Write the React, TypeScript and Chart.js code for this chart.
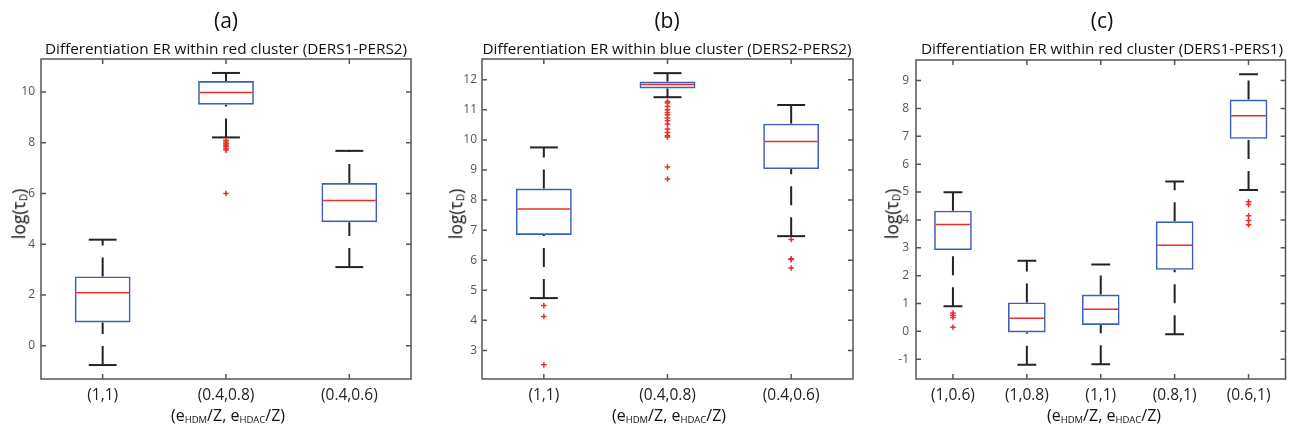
import React, { useEffect, useRef } from 'react';
import { Chart, registerables } from 'chart.js';

Chart.register(...registerables);

const FONT = "'Open Sans', 'Noto Sans', sans-serif";
const BLUE = '#3d5fb8';
const RED = '#e8302a';
const WHISKER = '#232323';
const AXIS = '#555555';

// ---- Panel (a) ----
const catsA = ['(1,1)', '(0.4,0.8)', '(0.4,0.6)'];
const lowA = [-0.76, 8.21, 3.1];
const q1A = [0.92, 9.5, 4.87];
const medA = [2.09, 9.98, 5.72];
const q3A = [2.73, 10.43, 6.41];
const highA = [4.18, 10.75, 7.68];
const outA: number[][] = [[], [8.1, 8.03, 7.96, 7.9, 7.84, 7.77, 7.71, 6.0], []];

// ---- Panel (b) ----
const catsB = ['(1,1)', '(0.4,0.8)', '(0.4,0.6)'];
const lowB = [4.74, 11.42, 6.8];
const q1B = [6.84, 11.71, 9.03];
const medB = [7.7, 11.84, 9.95];
const q3B = [8.38, 11.94, 10.54];
const highB = [9.75, 12.22, 11.16];
const outB: number[][] = [
  [4.49, 4.13, 2.52],
  [11.28, 11.23, 11.11, 11.0, 10.91, 10.84, 10.73, 10.64, 10.53, 10.36, 10.25, 10.14, 10.1, 9.1, 8.7],
  [6.69, 6.05, 6.02, 5.74],
];

// ---- Panel (c) ----
const catsC = ['(1,0.6)', '(1,0.8)', '(1,1)', '(0.8,1)', '(0.6,1)'];
const lowC = [0.9, -1.2, -1.18, -0.1, 5.07];
const q1C = [2.92, -0.04, 0.23, 2.21, 6.91];
const medC = [3.84, 0.47, 0.79, 3.09, 7.74];
const q3C = [4.33, 1.04, 1.32, 3.95, 8.32];
const highC = [4.99, 2.53, 2.4, 5.38, 9.23];
const outC: number[][] = [[0.66, 0.58, 0.5, 0.15], [], [], [], [4.65, 4.55, 4.15, 3.98, 3.83]];

type Spec = {
  letter: string;
  title: string;
  cats: string[];
  low: number[];
  q1: number[];
  med: number[];
  q3: number[];
  high: number[];
  out: number[][];
  yMin: number;
  yMax: number;
  step: number;
  boxPct: number;
  left: number;
  width: number;
  areaLeft: number;
  areaRight: number;
  areaTop: number;
  areaBottom: number;
  cx: number;
  yTitleX: number;
  yTickPad: number;
};

const panels: Spec[] = [
  {
    letter: '(a)', title: 'Differentiation ER within red cluster (DERS1-PERS2)',
    cats: catsA, low: lowA, q1: q1A, med: medA, q3: q3A, high: highA, out: outA,
    yMin: -1.31, yMax: 11.3, step: 2, boxPct: 0.452,
    left: 0, width: 430, areaLeft: 41, areaRight: 411, areaTop: 59, areaBottom: 379,
    cx: 226, yTitleX: 19, yTickPad: 6,
  },
  {
    letter: '(b)', title: 'Differentiation ER within blue cluster (DERS2-PERS2)',
    cats: catsB, low: lowB, q1: q1B, med: medB, q3: q3B, high: highB, out: outB,
    yMin: 2.05, yMax: 12.69, step: 1, boxPct: 0.452,
    left: 430, width: 430, areaLeft: 52, areaRight: 423, areaTop: 59, areaBottom: 379,
    cx: 237, yTitleX: 26, yTickPad: 5,
  },
  {
    letter: '(c)', title: 'Differentiation ER within red cluster (DERS1-PERS1)',
    cats: catsC, low: lowC, q1: q1C, med: medC, q3: q3C, high: highC, out: outC,
    yMin: -1.71, yMax: 9.74, step: 1, boxPct: 0.51,
    left: 860, width: 431, areaLeft: 56, areaRight: 426, areaTop: 60, areaBottom: 379,
    cx: 242, yTitleX: 32, yTickPad: 7,
  },
];

function makeBoxPlugin(p: Spec) {
  return {
    id: 'boxExtras',
    beforeDatasetsDraw(chart: any) {
      const { ctx, chartArea } = chart;
      const x = chart.scales.x;
      const y = chart.scales.y;
      const meta = chart.getDatasetMeta(0);
      ctx.save();
      ctx.beginPath();
      ctx.rect(chartArea.left, chartArea.top, chartArea.right - chartArea.left, chartArea.bottom - chartArea.top);
      ctx.clip();
      ctx.strokeStyle = WHISKER;
      ctx.lineWidth = 2;
      p.cats.forEach((_, i) => {
        const bar = meta.data[i];
        const cx = x.getPixelForValue(i);
        const capHalf = bar.width / 4;
        ctx.setLineDash([19, 12]);
        ctx.beginPath();
        ctx.moveTo(cx, y.getPixelForValue(p.low[i]));
        ctx.lineTo(cx, y.getPixelForValue(p.q1[i]));
        ctx.stroke();
        ctx.beginPath();
        ctx.moveTo(cx, y.getPixelForValue(p.q3[i]));
        ctx.lineTo(cx, y.getPixelForValue(p.high[i]));
        ctx.stroke();
        ctx.setLineDash([]);
        [p.low[i], p.high[i]].forEach((v) => {
          const py = y.getPixelForValue(v);
          ctx.beginPath();
          ctx.moveTo(cx - capHalf, py);
          ctx.lineTo(cx + capHalf, py);
          ctx.stroke();
        });
      });
      ctx.restore();
    },
    afterDatasetsDraw(chart: any) {
      const { ctx } = chart;
      const x = chart.scales.x;
      const y = chart.scales.y;
      const meta = chart.getDatasetMeta(0);
      ctx.save();
      ctx.strokeStyle = RED;
      ctx.lineWidth = 1.5;
      p.cats.forEach((_, i) => {
        const bar = meta.data[i];
        const cx = x.getPixelForValue(i);
        const half = bar.width / 2 - 1.5;
        const my = y.getPixelForValue(p.med[i]);
        ctx.beginPath();
        ctx.moveTo(cx - half, my);
        ctx.lineTo(cx + half, my);
        ctx.stroke();
      });
      ctx.restore();
    },
  };
}

const axesPlugin = {
  id: 'matlabAxes',
  afterDraw(chart: any) {
    const { ctx, chartArea } = chart;
    const { left, right, top, bottom } = chartArea;
    const x = chart.scales.x;
    const y = chart.scales.y;
    const L = 5;
    ctx.save();
    ctx.strokeStyle = AXIS;
    ctx.lineWidth = 1.5;
    ctx.strokeRect(left, top, right - left, bottom - top);
    ctx.beginPath();
    y.ticks.forEach((t: any) => {
      const py = y.getPixelForValue(t.value);
      ctx.moveTo(left, py);
      ctx.lineTo(left + L, py);
      ctx.moveTo(right, py);
      ctx.lineTo(right - L, py);
    });
    x.ticks.forEach((_: any, i: number) => {
      const px = x.getPixelForTick(i);
      ctx.moveTo(px, bottom);
      ctx.lineTo(px, bottom - L);
      ctx.moveTo(px, top);
      ctx.lineTo(px, top + L);
    });
    ctx.stroke();
    ctx.restore();
  },
};

function Panel({ p }: { p: Spec }) {
  const ref = useRef<HTMLCanvasElement>(null);
  useEffect(() => {
    const outliers: { x: string; y: number }[] = [];
    p.out.forEach((arr, i) => arr.forEach((v) => outliers.push({ x: p.cats[i], y: v })));
    const chart = new Chart(ref.current as HTMLCanvasElement, {
      type: 'bar',
      data: {
        labels: p.cats,
        datasets: [
          {
            type: 'bar',
            data: p.q1.map((v, i) => [v, p.q3[i]]) as any,
            backgroundColor: 'rgba(0,0,0,0)',
            borderColor: BLUE,
            borderWidth: 1.6,
            borderSkipped: false,
            barPercentage: p.boxPct,
            categoryPercentage: 1,
            order: 2,
          } as any,
          {
            type: 'scatter',
            data: outliers as any,
            pointStyle: 'cross',
            pointRadius: 2.8,
            borderColor: RED,
            backgroundColor: RED,
            borderWidth: 1.5,
            showLine: false,
            order: 1,
          } as any,
        ],
      },
      options: {
        responsive: false,
        maintainAspectRatio: false,
        animation: false,
        events: [],
        layout: {
          padding: { left: 0, right: p.width - p.areaRight, top: p.areaTop, bottom: 0 },
        },
        plugins: {
          legend: { display: false },
          tooltip: { enabled: false },
          title: { display: false },
        },
        scales: {
          x: {
            type: 'category',
            offset: true,
            grid: { display: false, drawTicks: false },
            border: { display: false },
            ticks: { font: { family: FONT, size: 15.5 }, color: '#222', padding: 7, maxRotation: 0, autoSkip: false },
            afterFit: (s: any) => {
              s.height = 432 - p.areaBottom;
            },
          },
          y: {
            type: 'linear',
            min: p.yMin,
            max: p.yMax,
            grid: { display: false, drawTicks: false },
            border: { display: false },
            ticks: {
              stepSize: p.step,
              includeBounds: false,
              font: { family: FONT, size: 12 },
              color: '#555',
              padding: p.yTickPad,
            },
            afterFit: (s: any) => {
              s.width = p.areaLeft;
            },
          },
        },
      } as any,
      plugins: [makeBoxPlugin(p), axesPlugin],
    });
    return () => chart.destroy();
  }, [p]);

  const subStyle: React.CSSProperties = { fontSize: '9.5px', verticalAlign: '-0.25em', lineHeight: 0 };
  return (
    <div style={{ position: 'absolute', left: p.left, top: 0, width: p.width, height: 432 }}>
      <canvas ref={ref} width={p.width} height={432} style={{ position: 'absolute', left: 0, top: 0, display: 'block' }} />
      <div style={{ position: 'absolute', left: p.cx, top: 20, transform: 'translate(-50%,-50%)', fontSize: 21, lineHeight: 1, whiteSpace: 'nowrap', color: '#111' }}>
        {p.letter}
      </div>
      <div style={{ position: 'absolute', left: p.cx, top: 48.8, transform: 'translate(-50%,-50%)', fontSize: 15.3, lineHeight: 1, whiteSpace: 'nowrap', color: '#111' }}>
        {p.title}
      </div>
      <div style={{ position: 'absolute', left: p.cx + 2, top: 407, transform: 'translateX(-50%)', fontSize: 16, lineHeight: 1, whiteSpace: 'nowrap', color: '#111' }}>
        (e<sub style={subStyle}>HDM</sub>/Z, e<sub style={subStyle}>HDAC</sub>/Z)
      </div>
      <div style={{ position: 'absolute', left: p.yTitleX, top: 214, transform: 'translate(-50%,-50%) rotate(-90deg)', fontSize: 17.5, lineHeight: 1, whiteSpace: 'nowrap', color: '#111' }}>
        log(τ<sub style={{ ...subStyle, fontSize: '10px', verticalAlign: '-0.2em' }}>D</sub>)
      </div>
    </div>
  );
}

export default function App() {
  return (
    <div style={{ position: 'fixed', left: 0, top: 0, width: 1291, height: 432, background: '#fff', fontFamily: FONT, overflow: 'hidden' }}>
      {panels.map((p) => (
        <Panel key={p.letter} p={p} />
      ))}
    </div>
  );
}
